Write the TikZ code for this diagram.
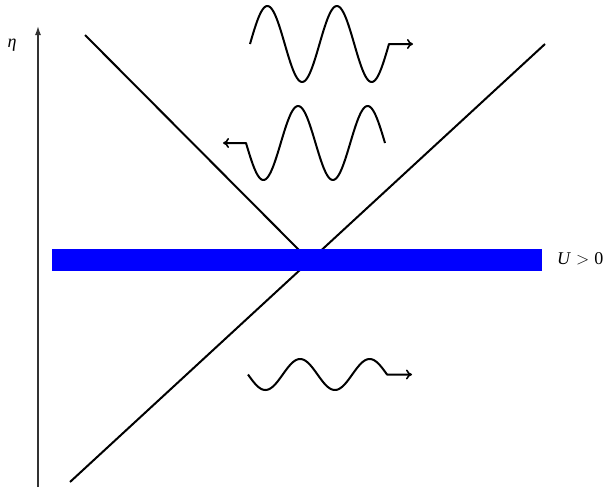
\documentclass[tikz,border=0pt]{standalone}
\usepackage{fontspec}
\setmainfont{Liberation Serif}
\usetikzlibrary{arrows.meta}
\begin{document}
\begin{tikzpicture}[x=1pt,y=-1pt,
  ray/.style={line width=2pt,black},
  wave/.style={line width=2pt,black,line join=round},
  tip/.style={-{To[length=6pt,width=10pt,line width=1.6pt]}},
  lbl/.style={inner sep=0pt}]
\useasboundingbox (0,0) rectangle (610,488);
% axis
\coordinate (ab) at (38,487);
\coordinate (at) at (38,26);
\draw[line width=1.4pt,black!80,-{Latex[length=9pt,width=6pt]}] (ab) -- (at);
\node[lbl,font=\fontsize{18}{20}\selectfont] (eta) at (12,45) {\textit{η}};
% light-cone lines
\coordinate (l1a) at (85,35);
\coordinate (l1b) at (299,250);
\coordinate (l2a) at (70,482);
\coordinate (l2b) at (545,44);
\draw[ray] (l2a) -- (l2b);
\draw[ray] (l1a) -- (l1b);
% band
\fill[blue] (52,249) rectangle (542,271);
\node[lbl,font=\fontsize{18}{20}\selectfont,anchor=west] (U) at (557,259) {\textit{U}\hspace{5pt}$>$\hspace{5pt}0};
% top wave (right-moving)
\coordinate (w1e) at (413,44);
\draw[wave,tip] plot[domain=250:389,samples=120,smooth] (\x,{44-38*sin((\x-250)/69.5*360)}) -- (w1e);
% middle wave (left-moving)
\coordinate (w2e) at (223,143);
\draw[wave,tip] plot[domain=385:246,samples=120,smooth] (\x,{143+37*sin((\x-246)/69.5*360)}) -- (w2e);
% bottom wave (right-moving)
\coordinate (w3e) at (412,374.5);
\draw[wave,tip] plot[domain=248:387,samples=120,smooth] (\x,{374.5+15.5*sin((\x-248)/69.5*360)}) -- (w3e);
\end{tikzpicture}
\end{document}
